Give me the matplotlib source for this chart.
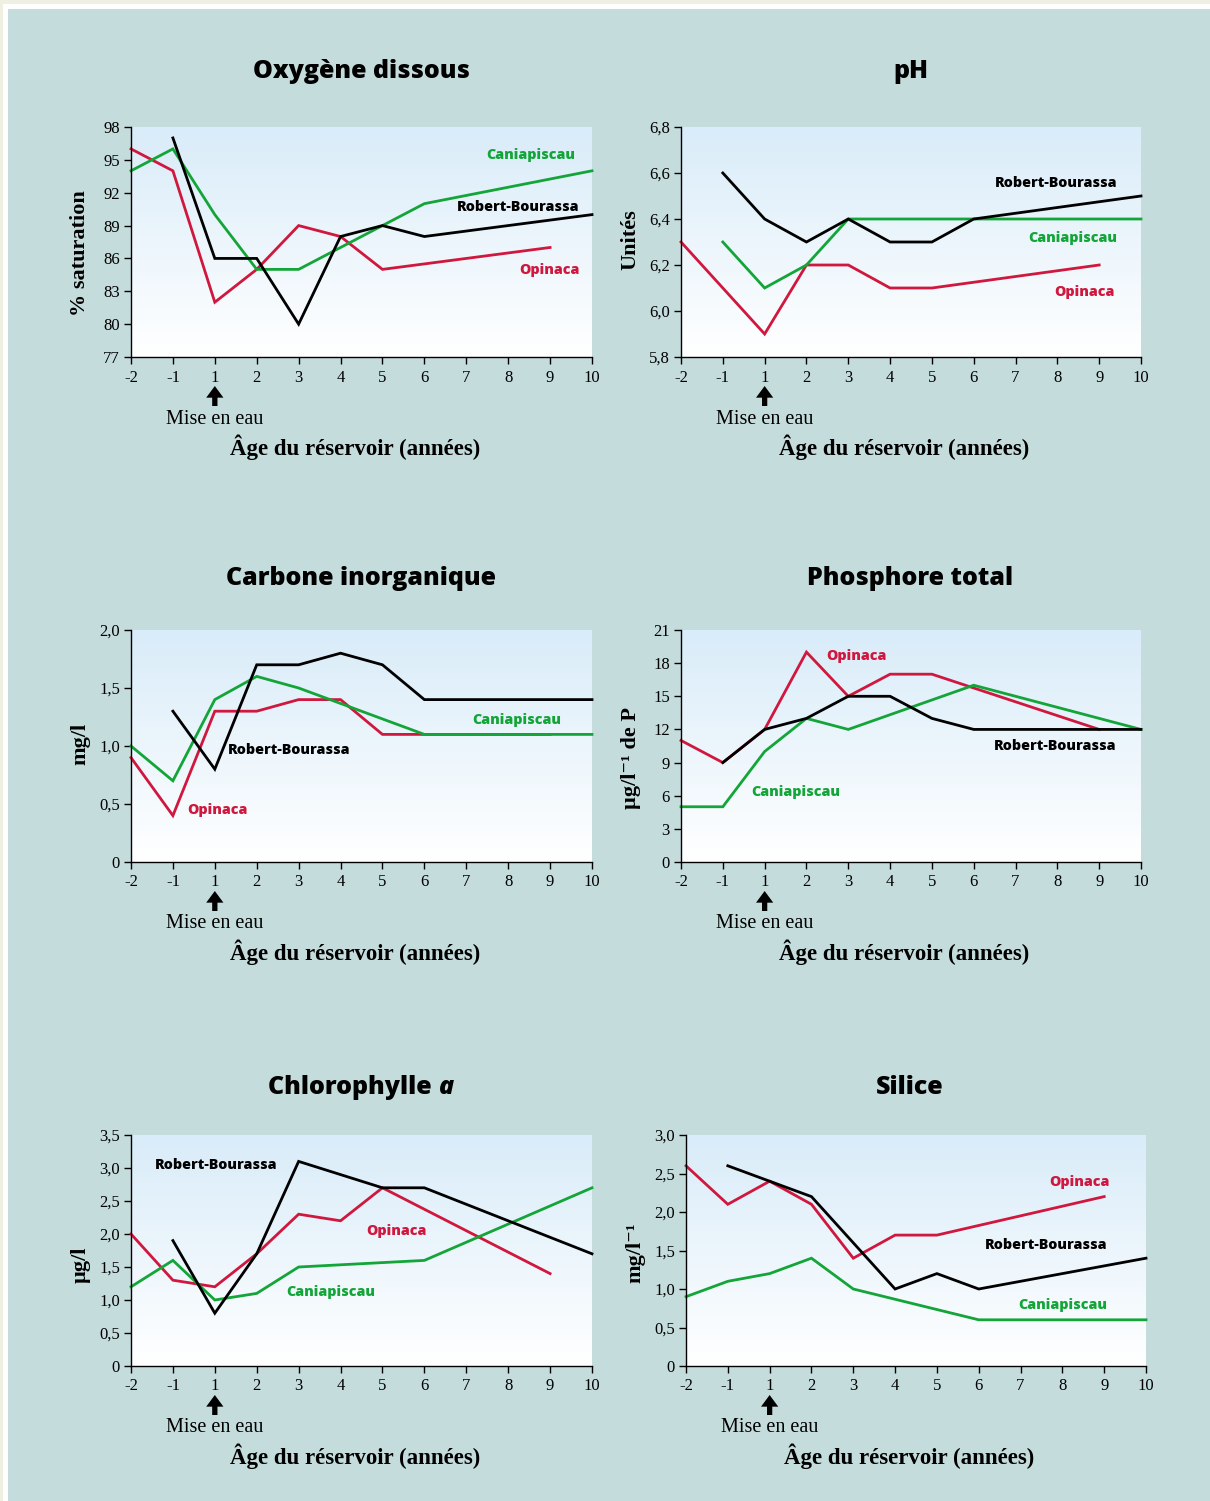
import numpy as np
import matplotlib
matplotlib.use('Agg')
import matplotlib.pyplot as plt
from matplotlib.patches import Rectangle
from matplotlib.colors import LinearSegmentedColormap

YEARS = [-2, -1, 1, 2, 3, 4, 5, 6, 7, 8, 9, 10]
YEAR_LABELS = ['-2', '-1', '1', '2', '3', '4', '5', '6', '7', '8', '9', '10']

# ---- Oxygène dissous ----
oxy_op_x = [-2, -1, 1, 2, 3, 4, 5, 9]
oxy_op_y = [96, 94, 82, 85, 89, 88, 85, 87]
oxy_ca_x = [-2, -1, 1, 2, 3, 4, 5, 6, 10]
oxy_ca_y = [94, 96, 90, 85, 85, 87, 89, 91, 94]
oxy_rb_x = [-1, 1, 2, 3, 4, 5, 6, 10]
oxy_rb_y = [97, 86, 86, 80, 88, 89, 88, 90]
oxy_ticks = [77, 80, 83, 86, 89, 92, 95, 98]
oxy_ticklabels = ['77', '80', '83', '86', '89', '92', '95', '98']

# ---- pH ----
ph_op_x = [-2, 1, 2, 3, 4, 5, 9]
ph_op_y = [6.3, 5.9, 6.2, 6.2, 6.1, 6.1, 6.2]
ph_ca_x = [-1, 1, 2, 3, 10]
ph_ca_y = [6.3, 6.1, 6.2, 6.4, 6.4]
ph_rb_x = [-1, 1, 2, 3, 4, 5, 6, 10]
ph_rb_y = [6.6, 6.4, 6.3, 6.4, 6.3, 6.3, 6.4, 6.5]
ph_ticks = [5.8, 6.0, 6.2, 6.4, 6.6, 6.8]
ph_ticklabels = ['5,8', '6,0', '6,2', '6,4', '6,6', '6,8']

# ---- Carbone inorganique ----
ci_op_x = [-2, -1, 1, 2, 3, 4, 5, 6, 9]
ci_op_y = [0.9, 0.4, 1.3, 1.3, 1.4, 1.4, 1.1, 1.1, 1.1]
ci_ca_x = [-2, -1, 1, 2, 3, 6, 10]
ci_ca_y = [1.0, 0.7, 1.4, 1.6, 1.5, 1.1, 1.1]
ci_rb_x = [-1, 1, 2, 3, 4, 5, 6, 10]
ci_rb_y = [1.3, 0.8, 1.7, 1.7, 1.8, 1.7, 1.4, 1.4]
ci_ticks = [0, 0.5, 1.0, 1.5, 2.0]
ci_ticklabels = ['0', '0,5', '1,0', '1,5', '2,0']

# ---- Phosphore total ----
pt_op_x = [-2, -1, 1, 2, 3, 4, 5, 9]
pt_op_y = [11, 9, 12, 19, 15, 17, 17, 12]
pt_ca_x = [-2, -1, 1, 2, 3, 6, 10]
pt_ca_y = [5, 5, 10, 13, 12, 16, 12]
pt_rb_x = [-1, 1, 2, 3, 4, 5, 6, 10]
pt_rb_y = [9, 12, 13, 15, 15, 13, 12, 12]
pt_ticks = [0, 3, 6, 9, 12, 15, 18, 21]
pt_ticklabels = ['0', '3', '6', '9', '12', '15', '18', '21']

# ---- Chlorophylle a ----
ch_op_x = [-2, -1, 1, 2, 3, 4, 5, 9]
ch_op_y = [2.0, 1.3, 1.2, 1.7, 2.3, 2.2, 2.7, 1.4]
ch_ca_x = [-2, -1, 1, 2, 3, 6, 10]
ch_ca_y = [1.2, 1.6, 1.0, 1.1, 1.5, 1.6, 2.7]
ch_rb_x = [-1, 1, 2, 3, 5, 6, 10]
ch_rb_y = [1.9, 0.8, 1.7, 3.1, 2.7, 2.7, 1.7]
ch_ticks = [0, 0.5, 1.0, 1.5, 2.0, 2.5, 3.0, 3.5]
ch_ticklabels = ['0', '0,5', '1,0', '1,5', '2,0', '2,5', '3,0', '3,5']

# ---- Silice ----
si_op_x = [-2, -1, 1, 2, 3, 4, 5, 9]
si_op_y = [2.6, 2.1, 2.4, 2.1, 1.4, 1.7, 1.7, 2.2]
si_ca_x = [-2, -1, 1, 2, 3, 6, 10]
si_ca_y = [0.9, 1.1, 1.2, 1.4, 1.0, 0.6, 0.6]
si_rb_x = [-1, 1, 2, 3, 4, 5, 6, 10]
si_rb_y = [2.6, 2.4, 2.2, 1.6, 1.0, 1.2, 1.0, 1.4]
si_ticks = [0, 0.5, 1.0, 1.5, 2.0, 2.5, 3.0]
si_ticklabels = ['0', '0,5', '1,0', '1,5', '2,0', '2,5', '3,0']

RED = '#d0173e'
GREEN = '#13a538'
BLACK = '#000000'
PANEL = '#c5dcdd'
SERIF = ['Liberation Serif', 'DejaVu Serif']
SANS = 'Open Sans'

W, H = 1210, 1501
fig = plt.figure(figsize=(W / 100, H / 100), dpi=100)
fig.patch.set_facecolor('#efefe2')
fig.patches.append(Rectangle((3 / W, 0), 1, 1 - 4 / H, transform=fig.transFigure,
                             facecolor='white', edgecolor='none', zorder=-10))
fig.patches.append(Rectangle((8 / W, 0), 1, 1 - 9 / H, transform=fig.transFigure,
                             facecolor=PANEL, edgecolor='none', zorder=-9))

cmap = LinearSegmentedColormap.from_list('g', ['#ffffff', '#d9ecf9'])
grad = np.linspace(0, 1, 256).reshape(-1, 1)


def pos(xs):
    return [YEARS.index(v) for v in xs]


def px_rect(x0, x1, ytop, ybot):
    return [x0 / W, (H - ybot) / H, (x1 - x0) / W, (ybot - ytop) / H]


panels = [
    dict(rect=px_rect(131, 592, 127, 357), ylim=(77, 98), ticks=oxy_ticks, tl=oxy_ticklabels,
         ylabel='% saturation', ylab_y=0.45, title=('Oxygène dissous', ''), title_xy=(361, 72),
         series=[(oxy_op_x, oxy_op_y, RED), (oxy_ca_x, oxy_ca_y, GREEN), (oxy_rb_x, oxy_rb_y, BLACK)],
         labels=[('Caniapiscau', GREEN, 0.963, 0.878, 'right'),
                 ('Robert-Bourassa', BLACK, 0.972, 0.652, 'right'),
                 ('Opinaca', RED, 0.974, 0.378, 'right')]),
    dict(rect=px_rect(681, 1141, 127, 357), ylim=(5.8, 6.8), ticks=ph_ticks, tl=ph_ticklabels,
         ylabel='Unités', ylab_y=0.51, title=('pH', ''), title_xy=(911, 72),
         series=[(ph_op_x, ph_op_y, RED), (ph_ca_x, ph_ca_y, GREEN), (ph_rb_x, ph_rb_y, BLACK)],
         labels=[('Robert-Bourassa', BLACK, 0.948, 0.757, 'right'),
                 ('Caniapiscau', GREEN, 0.948, 0.517, 'right'),
                 ('Opinaca', RED, 0.942, 0.283, 'right')]),
    dict(rect=px_rect(131, 592, 630, 862), ylim=(0, 2.0), ticks=ci_ticks, tl=ci_ticklabels,
         ylabel='mg/l', ylab_y=0.51, title=('Carbone inorganique', ''), title_xy=(361, 579),
         series=[(ci_op_x, ci_op_y, RED), (ci_ca_x, ci_ca_y, GREEN), (ci_rb_x, ci_rb_y, BLACK)],
         labels=[('Caniapiscau', GREEN, 0.933, 0.612, 'right'),
                 ('Robert-Bourassa', BLACK, 0.210, 0.483, 'left'),
                 ('Opinaca', RED, 0.121, 0.224, 'left')]),
    dict(rect=px_rect(681, 1141, 630, 862), ylim=(0, 21), ticks=pt_ticks, tl=pt_ticklabels,
         ylabel='µg/l⁻¹ de P', ylab_y=0.45, title=('Phosphore total', ''), title_xy=(910, 579),
         series=[(pt_op_x, pt_op_y, RED), (pt_ca_x, pt_ca_y, GREEN), (pt_rb_x, pt_rb_y, BLACK)],
         labels=[('Opinaca', RED, 0.315, 0.888, 'left'),
                 ('Robert-Bourassa', BLACK, 0.946, 0.500, 'right'),
                 ('Caniapiscau', GREEN, 0.152, 0.302, 'left')]),
    dict(rect=px_rect(131, 592, 1135, 1366), ylim=(0, 3.5), ticks=ch_ticks, tl=ch_ticklabels,
         ylabel='µg/l', ylab_y=0.44, title=('Chlorophylle ', 'a'), title_xy=(361, 1088),
         series=[(ch_op_x, ch_op_y, RED), (ch_ca_x, ch_ca_y, GREEN), (ch_rb_x, ch_rb_y, BLACK)],
         labels=[('Robert-Bourassa', BLACK, 0.052, 0.870, 'left'),
                 ('Opinaca', RED, 0.510, 0.584, 'left'),
                 ('Caniapiscau', GREEN, 0.336, 0.320, 'left')]),
    dict(rect=px_rect(686, 1146, 1135, 1366), ylim=(0, 3.0), ticks=si_ticks, tl=si_ticklabels,
         ylabel='mg/l⁻¹', ylab_y=0.49, title=('Silice', ''), title_xy=(910, 1088),
         series=[(si_op_x, si_op_y, RED), (si_ca_x, si_ca_y, GREEN), (si_rb_x, si_rb_y, BLACK)],
         labels=[('Opinaca', RED, 0.920, 0.797, 'right'),
                 ('Robert-Bourassa', BLACK, 0.917, 0.524, 'right'),
                 ('Caniapiscau', GREEN, 0.915, 0.264, 'right')]),
]

renderer = fig.canvas.get_renderer()

for p in panels:
    ax = fig.add_axes(p['rect'])
    ax.set_facecolor('none')
    ax.imshow(grad, extent=[0, 1, 0, 1], transform=ax.transAxes, origin='lower',
              cmap=cmap, aspect='auto', zorder=0, interpolation='bilinear')
    for xs, ys, c in p['series']:
        ax.plot(pos(xs), ys, color=c, lw=2.0, solid_joinstyle='miter', zorder=3, clip_on=False)
    ax.set_xlim(0, len(YEARS) - 1)
    ax.set_ylim(*p['ylim'])
    ax.set_xticks(range(len(YEARS)))
    ax.set_xticklabels(YEAR_LABELS, fontfamily=SERIF, fontsize=12)
    ax.set_yticks(p['ticks'])
    ax.set_yticklabels(p['tl'], fontfamily=SERIF, fontsize=12)
    for s in ['top', 'right']:
        ax.spines[s].set_visible(False)
    for s in ['left', 'bottom']:
        ax.spines[s].set_linewidth(1.0)
        ax.spines[s].set_zorder(4)
    ax.tick_params(direction='out', length=5, width=1, pad=3)
    ax.tick_params(axis='x', pad=4)
    ax.set_ylabel(p['ylabel'], fontfamily=SERIF, fontsize=16, fontweight='bold')
    ax.yaxis.set_label_coords(-0.088, p['ylab_y'])
    for txt, c, xf, yf, ha in p['labels']:
        ax.text(xf, yf, txt, transform=ax.transAxes, color=c, ha=ha, va='center',
                fontfamily=SANS, fontweight=800, fontsize=10.3, zorder=5)
    # arrow and annotation
    hpx = p['rect'][3] * H
    xi = YEARS.index(1)
    ax.annotate('', xy=(xi, -29 / hpx), xytext=(xi, -49 / hpx),
                xycoords=('data', 'axes fraction'), textcoords=('data', 'axes fraction'),
                arrowprops=dict(arrowstyle='simple,head_width=0.62,head_length=0.42,tail_width=0.19',
                                mutation_scale=20, shrinkA=0, shrinkB=0,
                                color='black', lw=0), annotation_clip=False)
    ax.text(xi, -62 / hpx, 'Mise en eau', transform=ax.get_xaxis_transform(),
            ha='center', va='center', fontfamily=SERIF, fontsize=14.5)
    ax.text(0.486, -90 / hpx, 'Âge du réservoir (années)', transform=ax.transAxes,
            ha='center', va='center', fontfamily=SERIF, fontsize=16.5, fontweight='bold')
    # title (upright part + optional italic part), centred as a whole
    tx, ty = p['title_xy']
    main, ital = p['title']
    t1 = fig.text(0, 1 - ty / H, main, ha='left', va='center', fontfamily=SANS,
                  fontweight=800, fontsize=18)
    w1 = t1.get_window_extent(renderer).width
    w2 = 0
    t2 = None
    if ital:
        t2 = fig.text(0, 1 - ty / H, ital, ha='left', va='center', fontfamily=SANS,
                      fontweight=800, fontstyle='italic', fontsize=18)
        w2 = t2.get_window_extent(renderer).width
    x0 = tx - (w1 + w2) / 2
    t1.set_x(x0 / W)
    if t2 is not None:
        t2.set_x((x0 + w1) / W)

fig.savefig('out.png', dpi=100, facecolor=fig.get_facecolor())
